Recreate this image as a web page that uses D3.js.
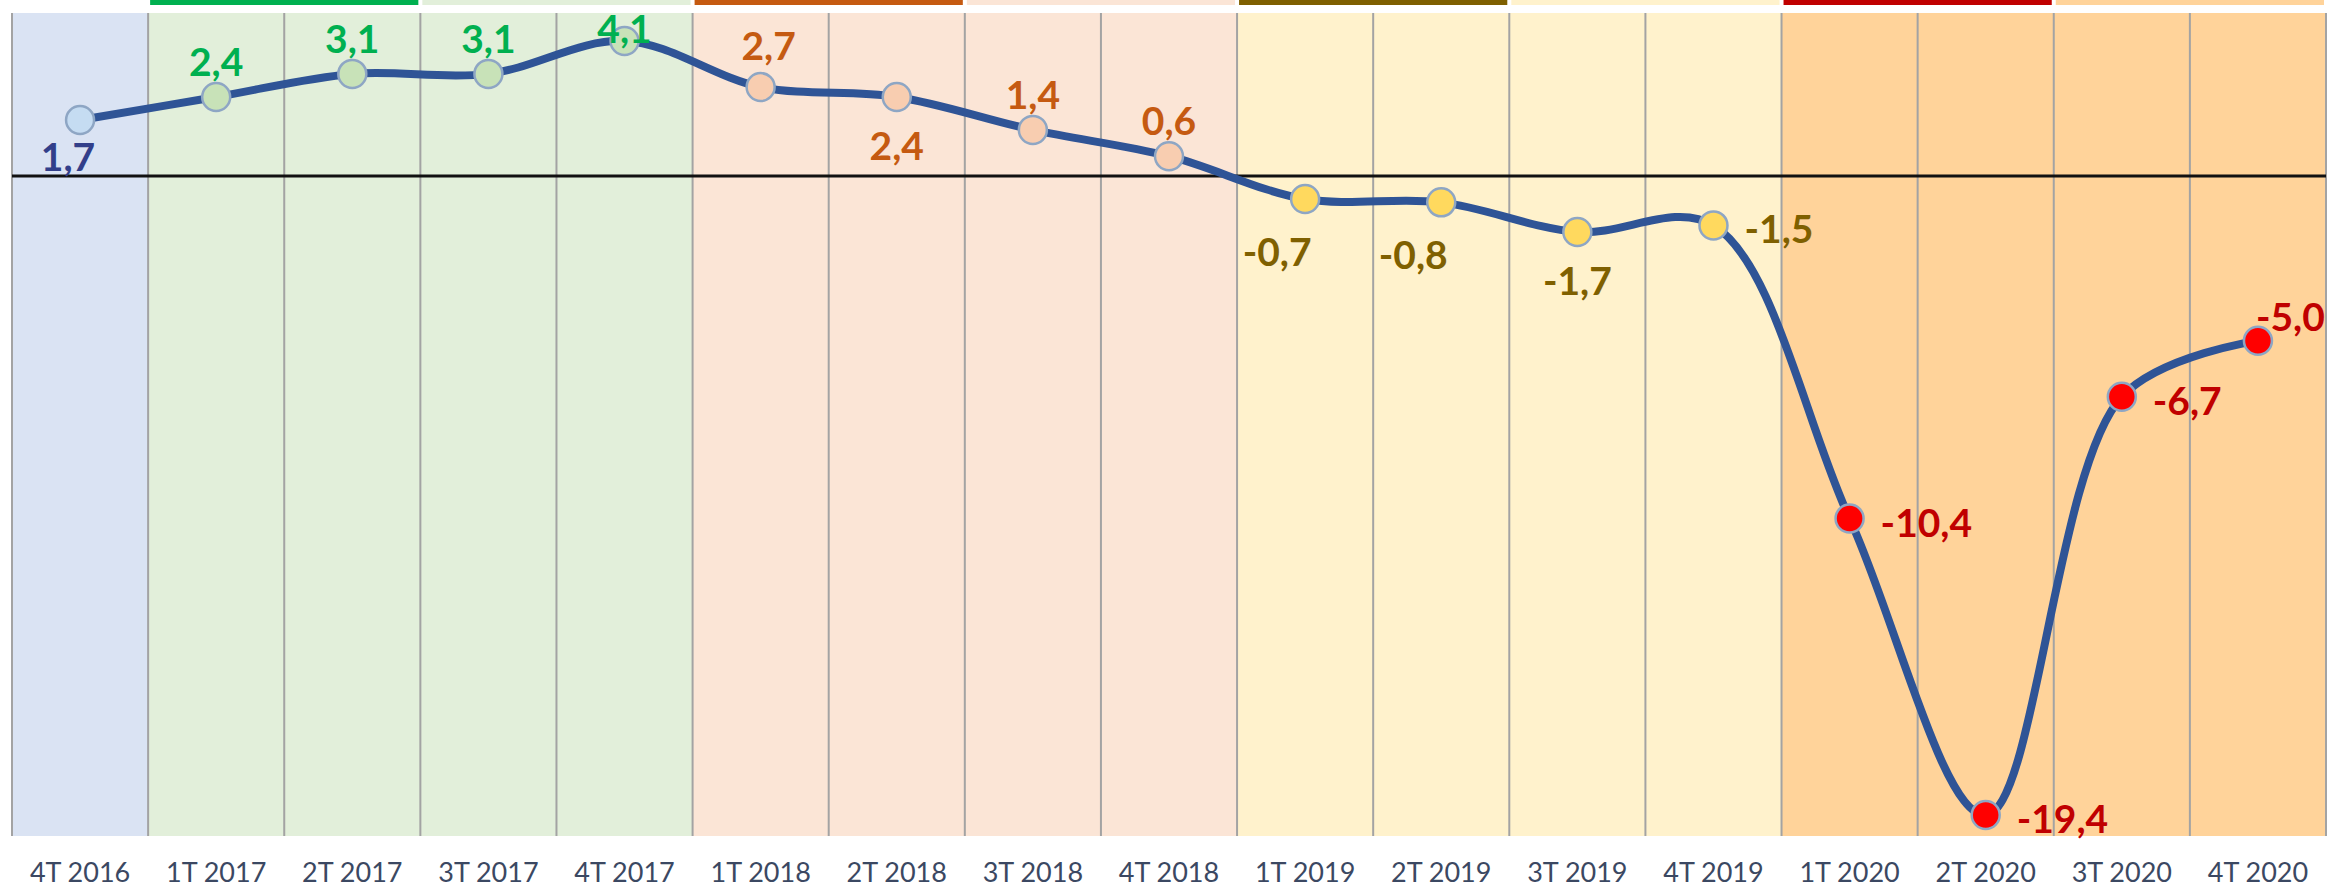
<!DOCTYPE html>
<html>
<head>
<meta charset="utf-8">
<script src="https://cdn.jsdelivr.net/npm/d3@7"></script>
<style>
  html, body { margin: 0; padding: 0; background: #fff; }
  svg { display: block; }
</style>
</head>
<body>
<div id="chart"></div>
<script>
// Chart data
const quarters = ['4T 2016', '1T 2017', '2T 2017', '3T 2017', '4T 2017',
                  '1T 2018', '2T 2018', '3T 2018', '4T 2018',
                  '1T 2019', '2T 2019', '3T 2019', '4T 2019',
                  '1T 2020', '2T 2020', '3T 2020', '4T 2020'];
const values = [1.7, 2.4, 3.1, 3.1, 4.1, 2.7, 2.4, 1.4, 0.6, -0.7, -0.8, -1.7, -1.5, -10.4, -19.4, -6.7, -5.0];
// where each data label sits relative to its point
const labelPlacement = ['belowTight', 'above', 'above', 'above', 'above', 'aboveRight2', 'below', 'above', 'above',
                        'belowLeft', 'belowLeft', 'below', 'right', 'right', 'right', 'right', 'aboveRight'];

// Dimensions
const width = 2333;
const height = 889;
const plotLeft = 12;
const plotRight = 2326;
const plotTop = 13;
const plotBottom = 836;

// Colours per year
const bgColor = { '2016': '#dae3f3', '2017': '#e2efda', '2018': '#fbe5d6', '2019': '#fff2cc', '2020': '#ffd39a' };
const barColor = { '2017': '#00b050', '2018': '#c55a11', '2019': '#7f6000', '2020': '#c00000' };
const dotColor = { '2016': '#c5dcf2', '2017': '#c8e2b8', '2018': '#f8cdb0', '2019': '#ffd95e', '2020': '#ff0000' };
const textColor = { '2016': '#323f8a', '2017': '#00b050', '2018': '#c55a11', '2019': '#7f6000', '2020': '#c00000' };

const yearOf = q => q.slice(-4);
const data = quarters.map((q, i) => ({ q, year: yearOf(q), value: values[i], place: labelPlacement[i] }));

// Scales
const xScale = d3.scaleBand()
    .domain(quarters)
    .range([plotLeft, plotRight])
    .padding(0);

const yScale = d3.scaleLinear()
    .domain([-19.4, 0])
    .range([815, 176]);

const cx = d => xScale(d.q) + xScale.bandwidth() / 2;

const svg = d3.select('#chart')
    .append('svg')
    .attr('width', width)
    .attr('height', height);

// Column backgrounds
svg.selectAll('.col-bg')
    .data(data)
    .enter()
    .append('rect')
    .attr('class', 'col-bg')
    .attr('x', d => xScale(d.q))
    .attr('y', plotTop)
    .attr('width', xScale.bandwidth())
    .attr('height', plotBottom - plotTop)
    .attr('fill', d => bgColor[d.year]);

// Coloured bars on top: first half of each year dark, second half light
const years = Array.from(new Set(data.map(d => d.year))).filter(y => barColor[y]);
const topBars = [];
years.forEach(y => {
    const qs = quarters.filter(q => yearOf(q) === y);
    topBars.push({ from: qs[0], to: qs[1], color: barColor[y] });
    topBars.push({ from: qs[2], to: qs[3], color: bgColor[y] });
});

svg.selectAll('.top-bar')
    .data(topBars)
    .enter()
    .append('rect')
    .attr('class', 'top-bar')
    .attr('x', d => xScale(d.from) + 2)
    .attr('y', 0)
    .attr('width', d => xScale(d.to) + xScale.bandwidth() - xScale(d.from) - 4)
    .attr('height', 5)
    .attr('fill', d => d.color);

// Column borders
const borders = quarters.map(q => xScale(q)).concat([plotRight]);
svg.selectAll('.col-line')
    .data(borders)
    .enter()
    .append('line')
    .attr('class', 'col-line')
    .attr('x1', d => d)
    .attr('x2', d => d)
    .attr('y1', plotTop)
    .attr('y2', plotBottom)
    .attr('stroke', '#a3a3a3')
    .attr('stroke-width', 2);

// Zero line
svg.append('line')
    .attr('x1', plotLeft)
    .attr('x2', plotRight)
    .attr('y1', yScale(0))
    .attr('y2', yScale(0))
    .attr('stroke', '#111')
    .attr('stroke-width', 3);

// Smoothed line
const line = d3.line()
    .x(cx)
    .y(d => yScale(d.value))
    .curve(d3.curveCatmullRom.alpha(0.5));

svg.append('path')
    .datum(data)
    .attr('d', line)
    .attr('fill', 'none')
    .attr('stroke', '#2f5496')
    .attr('stroke-width', 8)
    .attr('stroke-linejoin', 'round');

// Markers
svg.selectAll('.dot')
    .data(data)
    .enter()
    .append('circle')
    .attr('class', 'dot')
    .attr('cx', cx)
    .attr('cy', d => yScale(d.value))
    .attr('r', 14)
    .attr('fill', d => dotColor[d.year])
    .attr('stroke', '#8ea6c4')
    .attr('stroke-width', 2.5);

// Data labels
const offsets = {
    above: { dx: 0, dy: -36, anchor: 'middle' },
    aboveRight2: { dx: 8, dy: -42, anchor: 'middle' },
    below: { dx: 0, dy: 48, anchor: 'middle' },
    belowTight: { dx: -12, dy: 36, anchor: 'middle' },
    belowLeft: { dx: -28, dy: 52, anchor: 'middle' },
    right: { dx: 31, dy: 3, anchor: 'start' },
    aboveRight: { dx: -2, dy: -25, anchor: 'start' }
};
const fmt = v => d3.format('.1f')(v).replace('.', ',').replace('−', '-');

svg.append('g')
    .selectAll('.label')
    .data(data)
    .enter()
    .append('text')
    .attr('class', 'label')
    .attr('x', d => cx(d) + offsets[d.place].dx)
    .attr('y', d => Math.max(yScale(d.value) + offsets[d.place].dy, plotTop + 15))
    .attr('text-anchor', d => offsets[d.place].anchor)
    .attr('dominant-baseline', 'central')
    .attr('font-family', 'Lato, "Open Sans", sans-serif')
    .attr('font-weight', 'bold')
    .attr('font-size', '39px')
    .attr('fill', d => textColor[d.year])
    .text(d => fmt(d.value));

// X axis labels
const xAxis = d3.axisBottom(xScale)
    .tickSize(0)
    .tickPadding(27);

const gx = svg.append('g')
    .attr('transform', `translate(0, ${plotBottom})`)
    .call(xAxis);

gx.select('.domain').remove();
gx.selectAll('text')
    .attr('font-family', 'Lato, "Open Sans", sans-serif')
    .attr('font-size', '27px')
    .attr('fill', '#3b4862');
</script>
</body>
</html>
